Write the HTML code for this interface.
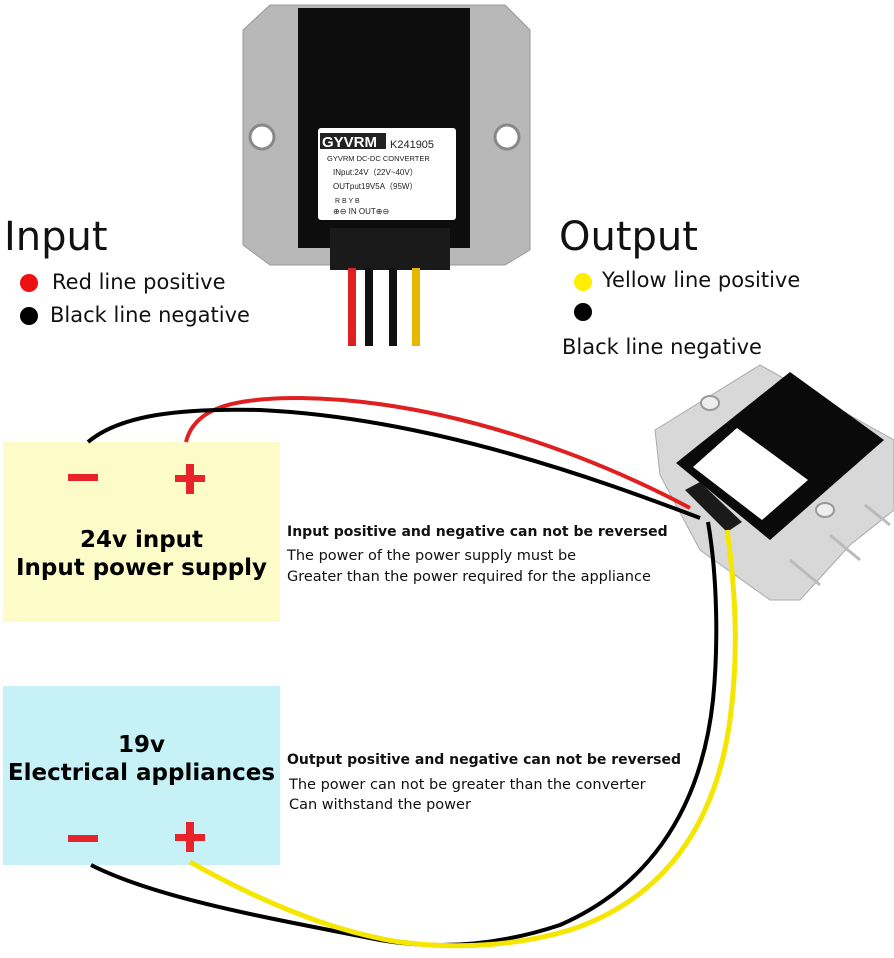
<!DOCTYPE html>
<html><head><meta charset="utf-8"><style>
body{margin:0;width:894px;height:958px;background:#fff;position:relative;overflow:hidden;font-family:"DejaVu Sans","Liberation Sans",sans-serif;}
.t{position:absolute;white-space:nowrap;color:#111}
.box{position:absolute;left:3px;width:277px;height:180px}
.c{text-align:center;font-weight:bold;font-size:23px;line-height:28px;position:absolute;width:277px;left:0}
</style></head><body>
<svg width="894" height="958" style="position:absolute;left:0;top:0">
<rect x="3" y="442" width="277" height="180" fill="#fdfbc8"/>
<rect x="3" y="686" width="277" height="179" fill="#c6f1f6"/>
<!-- top device -->
<polygon points="270,5 505,5 530,30 530,250 505,265 270,265 243,245 243,30" fill="#b8b8b8" stroke="#999"/>
<polygon points="298,8 470,8 470,248 298,248" fill="#0d0d0d"/>
<circle cx="262" cy="137" r="12" fill="#fff" stroke="#888" stroke-width="3"/>
<circle cx="507" cy="137" r="12" fill="#fff" stroke="#888" stroke-width="3"/>
<rect x="318" y="128" width="138" height="92" rx="3" fill="#fff"/>
<rect x="320" y="133" width="66" height="16" fill="#222"/>
<text x="322" y="147" font-family="Liberation Sans" font-weight="bold" font-size="15" fill="#fff">GYVRM</text>
<text x="390" y="148" font-family="Liberation Sans" font-size="11" fill="#222">K241905</text>
<text x="327" y="161" font-family="Liberation Sans" font-size="7.5" fill="#222">GYVRM DC-DC  CONVERTER</text>
<text x="333" y="175" font-family="Liberation Sans" font-size="8" fill="#222">INput:24V（22V~40V）</text>
<text x="333" y="189" font-family="Liberation Sans" font-size="8" fill="#222">OUTput19V5A（95W）</text>
<text x="335" y="203" font-family="Liberation Sans" font-size="7" fill="#222">R B                       Y  B</text>
<text x="333" y="214" font-family="Liberation Sans" font-size="8" fill="#222">⊕⊖ IN       OUT⊕⊖</text>
<rect x="330" y="228" width="120" height="42" fill="#1a1a1a"/>
<rect x="348" y="268" width="8" height="78" fill="#e02020"/>
<rect x="365" y="268" width="8" height="78" fill="#111"/>
<rect x="389" y="268" width="8" height="78" fill="#111"/>
<rect x="412" y="268" width="8" height="78" fill="#e8b800"/>
<circle cx="29" cy="283" r="9" fill="#ee1111"/>
<circle cx="29" cy="316" r="9" fill="#000"/>
<circle cx="583" cy="282" r="9" fill="#ffee00"/>
<circle cx="583" cy="312" r="9" fill="#000"/>
<!-- right device -->
<polygon points="655,430 760,365 894,440 894,510 850,545 800,600 770,600 700,550 660,475" fill="#d8d8d8" stroke="#aaa"/>
<g stroke="#bbb" stroke-width="3"><line x1="790" y1="560" x2="820" y2="585"/><line x1="830" y1="535" x2="860" y2="560"/><line x1="865" y1="505" x2="890" y2="525"/></g>
<polygon points="676,463 790,372 884,440 770,540" fill="#0a0a0a"/>
<polygon points="693,467 737,428 808,480 762,520" fill="#fff"/>
<ellipse cx="710" cy="403" rx="9" ry="7" fill="#eee" stroke="#999" stroke-width="2"/>
<ellipse cx="825" cy="510" rx="9" ry="7" fill="#eee" stroke="#999" stroke-width="2"/>
<polygon points="685,490 700,482 742,522 727,532" fill="#1a1a1a"/>
<!-- wires -->
<path d="M186,442 C195,405 240,398 300,398 C450,400 600,460 690,508" stroke="#e02020" stroke-width="4" fill="none"/>
<path d="M88,442 C120,415 180,408 260,410 C430,418 600,480 700,518" stroke="#000" stroke-width="4" fill="none"/>
<path d="M708,522 C718,580 718,650 713,700 C700,820 640,890 560,925 C500,945 440,950 380,940 C280,920 160,900 91,865" stroke="#000" stroke-width="4" fill="none"/>
<path d="M727,530 C737,600 738,660 730,720 C715,830 660,900 570,930 C520,945 460,950 400,942 C320,930 240,890 190,862" stroke="#f5e600" stroke-width="5" fill="none"/>
<g fill="#e8242a">
<rect x="68" y="474" width="30" height="7"/>
<rect x="175" y="475" width="30" height="7"/><rect x="186" y="464" width="8" height="30"/>
<rect x="68" y="835" width="30" height="7"/>
<rect x="175" y="834" width="30" height="7"/><rect x="186" y="822" width="8" height="30"/>
</g>
</svg>
<div class="t" style="left:4px;top:214px;font-size:40px">Input</div>
<div class="t" style="left:52px;top:270px;font-size:21px">Red line positive</div>
<div class="t" style="left:50px;top:303px;font-size:21px">Black line negative</div>
<div class="t" style="left:559px;top:214px;font-size:40px">Output</div>
<div class="t" style="left:602px;top:268px;font-size:21px">Yellow line positive</div>
<div class="t" style="left:562px;top:335px;font-size:21px">Black line negative</div>
<div class="box" style="top:442px"><div class="c" style="top:84px">24v input<br>Input power supply</div></div>
<div class="box" style="top:686px"><div class="c" style="top:45px">19v<br>Electrical appliances</div></div>
<div class="t" style="left:287px;top:524px;font-size:14px;font-weight:bold">Input positive and negative can not be reversed</div>
<div class="t" style="left:287px;top:546px;font-size:14.5px;line-height:21px">The power of the power supply must be<br>Greater than the power required for the appliance</div>
<div class="t" style="left:287px;top:752px;font-size:14px;font-weight:bold">Output positive and negative can not be reversed</div>
<div class="t" style="left:289px;top:775px;font-size:14.5px;line-height:20px">The power can not be greater than the converter<br>Can withstand the power</div>
</body></html>
